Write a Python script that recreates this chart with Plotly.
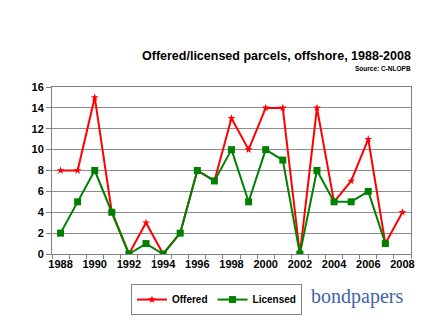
import plotly.graph_objects as go

years = list(range(1988, 2009))
offered = [8, 8, 15, 4, 0, 3, 0, 2, 8, 7, 13, 10, 14, 14, 0, 14, 5, 7, 11, 1, 4]
licensed = [2, 5, 8, 4, 0, 1, 0, 2, 8, 7, 10, 5, 10, 9, 0, 8, 5, 5, 6, 1, None]
tick_years = list(range(1988, 2009, 2))

FONT = "Arial, Liberation Sans, sans-serif"

fig = go.Figure()
fig.add_trace(go.Scatter(x=years, y=offered, name="Offered", mode="lines+markers",
                         line=dict(color="#ff0000", width=2),
                         marker=dict(symbol="star", size=6, color="#ff0000")))
fig.add_trace(go.Scatter(x=years, y=licensed, name="Licensed", mode="lines+markers",
                         line=dict(color="#008000", width=2),
                         marker=dict(symbol="square", size=7, color="#008000")))

fig.update_layout(
    width=441, height=331,
    margin=dict(l=52, r=30, t=87, b=77),
    paper_bgcolor="white", plot_bgcolor="white",
    font=dict(family=FONT, color="black"),
    showlegend=True,
    legend=dict(orientation="h", x=0.22, xanchor="left", xref="paper",
                y=-0.18, yanchor="top",
                bordercolor="#808080", borderwidth=1,
                font=dict(size=10, family=FONT, weight="bold"),
                itemwidth=30, tracegroupgap=0),
    annotations=[
        dict(text="<b>Offered/licensed parcels, offshore, 1988-2008</b>",
             xref="paper", yref="paper", x=1.005, y=1.13, xanchor="right", yanchor="bottom",
             showarrow=False, font=dict(size=12.5, family=FONT)),
        dict(text="<b>Source: C-NLOPB</b>",
             xref="paper", yref="paper", x=1.005, y=1.08, xanchor="right", yanchor="bottom",
             showarrow=False, font=dict(size=6.5, family=FONT)),
        dict(text="bondpapers", xref="paper", yref="paper", x=0.715, y=-0.255,
             xanchor="left", yanchor="middle", showarrow=False,
             font=dict(size=20, family="Liberation Serif, Times New Roman, serif", color="#3d64a8")),
    ],
)

fig.update_xaxes(range=[1987.5, 2008.5], tickvals=tick_years, ticktext=[str(y) for y in tick_years],
                 ticks="", showgrid=False, showline=True, linecolor="#808080", linewidth=1,
                 mirror=True, zeroline=False,
                 tickfont=dict(size=11, family=FONT, weight="bold"),
                 minor=dict(tick0=1987.5, dtick=1, ticks="outside", ticklen=4,
                            tickcolor="#808080", showgrid=False))
fig.update_yaxes(range=[0, 16], dtick=2, showgrid=True, gridcolor="#8c8c8c", gridwidth=1,
                 showline=True, linecolor="#808080", linewidth=1, mirror=True,
                 ticks="outside", ticklen=5, tickcolor="#808080", zeroline=False,
                 tickfont=dict(size=11, family=FONT, weight="bold"))

fig.write_html("out.html")
